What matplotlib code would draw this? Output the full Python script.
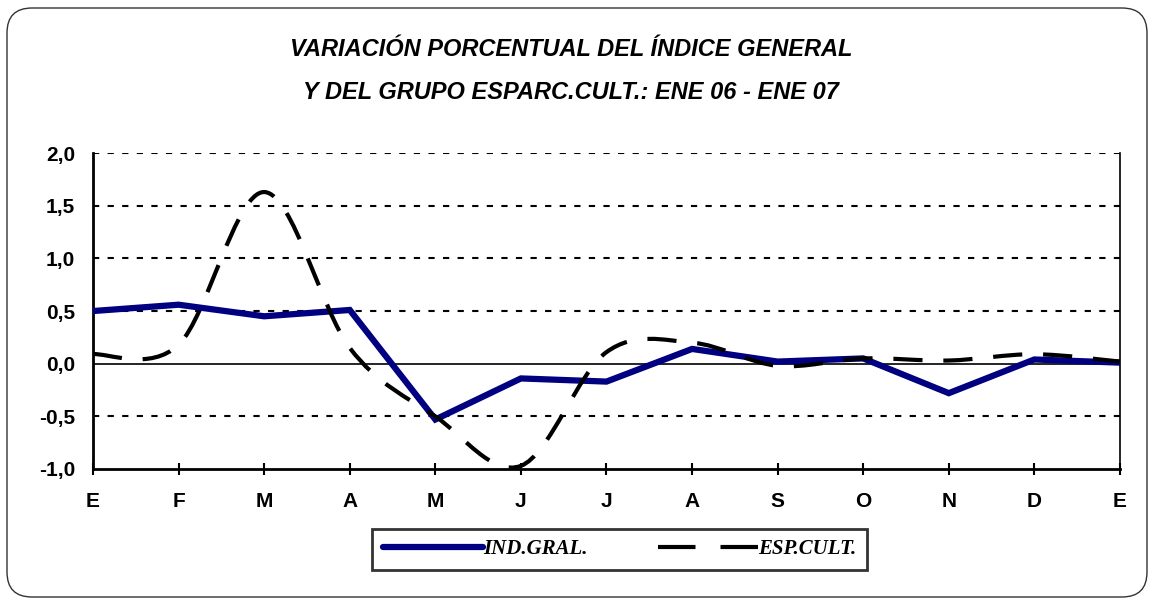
import numpy as np
import matplotlib
matplotlib.use("Agg")
import matplotlib.pyplot as plt
from matplotlib.path import Path
from matplotlib.patches import PathPatch, FancyBboxPatch
from matplotlib.lines import Line2D
from matplotlib.transforms import IdentityTransform

# data
meses = ["E", "F", "M", "A", "M", "J", "J", "A", "S", "O", "N", "D", "E"]
ind_gral = [0.50, 0.56, 0.45, 0.51, -0.53, -0.14, -0.17, 0.14, 0.02, 0.05, -0.28, 0.04, 0.01]
esp_cult = [0.09, 0.18, 1.63, 0.15, -0.50, -0.97, 0.11, 0.20, -0.02, 0.05, 0.03, 0.09, 0.02]
y_ticks = [-1.0, -0.5, 0.0, 0.5, 1.0, 1.5, 2.0]
y_labels = ["-1,0", "-0,5", "0,0", "0,5", "1,0", "1,5", "2,0"]

titulo = "VARIACIÓN PORCENTUAL DEL ÍNDICE GENERAL\nY DEL GRUPO ESPARC.CULT.: ENE 06 - ENE 07"


def smooth_path(x, y):
    # bezier segments like a spreadsheet "smoothed line"
    n = len(x)
    verts = [(x[0], y[0])]
    codes = [Path.MOVETO]
    for i in range(n - 1):
        a = i - 1 if i > 0 else i
        b = i + 2 if i + 2 < n else i + 1
        c1 = (x[i] + (x[i + 1] - x[a]) / 6, y[i] + (y[i + 1] - y[a]) / 6)
        c2 = (x[i + 1] - (x[b] - x[i]) / 6, y[i + 1] - (y[b] - y[i]) / 6)
        verts += [c1, c2, (x[i + 1], y[i + 1])]
        codes += [Path.CURVE4] * 3
    return Path(verts, codes)


fig = plt.figure(figsize=(11.54, 6.05), dpi=100)
ax = fig.add_axes([0.0806, 0.2248, 0.8899, 0.5222])

x = np.arange(len(meses))

# grid lines
for v in y_ticks:
    if v == 0.0:
        ax.axhline(v, color="black", lw=1.2, zorder=1)
    elif v > -1.0:
        ax.axhline(v, color="black", lw=1.5, ls=(0, (3, 4)), zorder=1)

ax.plot(x, ind_gral, color="#000080", lw=4.5, solid_capstyle="round",
        solid_joinstyle="miter", zorder=3)

patch = PathPatch(smooth_path(x, esp_cult), fill=False, edgecolor="black",
                  lw=3, ls=(0, (7, 5)), capstyle="butt", zorder=4)
ax.add_patch(patch)

ax.set_xlim(0, 12)
ax.set_ylim(-1.0, 2.0)
ax.set_xticks(x)
ax.set_xticklabels(meses)
ax.set_yticks(y_ticks)
ax.set_yticklabels(y_labels)

ax.tick_params(axis="x", direction="inout", length=9, width=1.5, pad=12)
ax.tick_params(axis="y", length=0, pad=13)
for lab in ax.get_xticklabels() + ax.get_yticklabels():
    lab.set_fontfamily("Liberation Sans")
    lab.set_fontweight("bold")
    lab.set_fontsize(15)

ax.spines["top"].set_visible(False)
ax.spines["left"].set_linewidth(2)
ax.spines["bottom"].set_linewidth(2)
ax.spines["right"].set_linewidth(1.2)

fig.text(0.495, 0.883, titulo, ha="center", va="center", fontsize=17,
         family="Liberation Sans", weight="bold", style="italic", linespacing=2.1)

handles = [
    Line2D([], [], color="#000080", lw=4.5, solid_capstyle="round"),
    Line2D([], [], color="black", lw=3, ls=(0, (9, 6))),
]
leg = fig.legend(handles, ["IND.GRAL.", "ESP.CULT."], loc="center",
                 bbox_to_anchor=(0.537, 0.092), ncol=2, handlelength=4.8,
                 handletextpad=0.0, columnspacing=3.4, fancybox=False,
                 edgecolor="black", borderpad=0.5,
                 prop={"family": "Liberation Serif", "weight": "bold",
                       "style": "italic", "size": 15})
leg.get_frame().set_linewidth(2)

# rounded outer border
border = FancyBboxPatch((7, 8), 1140, 589, boxstyle="round,pad=0,rounding_size=25",
                        transform=IdentityTransform(), fill=False,
                        edgecolor="#333333", lw=1.0)
fig.patches.append(border)

fig.savefig("out.png", dpi=100)
